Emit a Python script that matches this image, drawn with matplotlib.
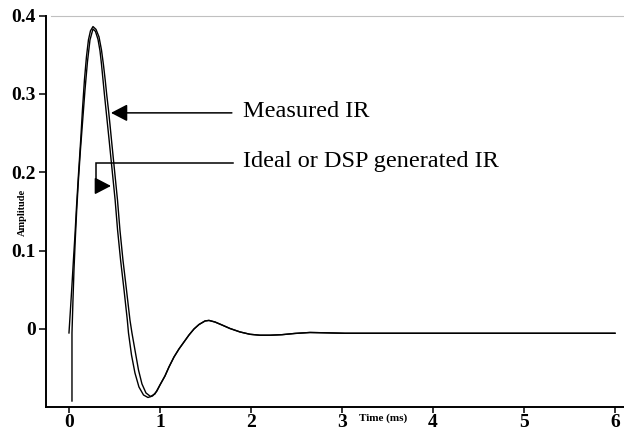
import matplotlib
matplotlib.use("Agg")
import matplotlib.pyplot as plt
import numpy as np

plt.rcParams['font.family'] = ['Liberation Serif', 'DejaVu Serif']

# shared ringing tail after the first trough (ms, amplitude)
tail_t = [1.000, 1.055, 1.099, 1.154, 1.209, 1.264, 1.319, 1.374, 1.429, 1.495,
          1.538, 1.604, 1.681, 1.769, 1.879, 1.989, 2.099, 2.209, 2.341, 2.484,
          2.648, 2.813, 3.033, 6.000]
tail_a = [-0.0715, -0.0600, -0.0485, -0.0358, -0.0255, -0.0166, -0.0077, 0.0000,
          0.0057, 0.0102, 0.0109, 0.0089, 0.0051, 0.0006, -0.0038, -0.0068,
          -0.0080, -0.0080, -0.0073, -0.0057, -0.0045, -0.0049, -0.0055, -0.0055]

# measured impulse response, start of record to first trough
meas_t = [0.000, 0.016, 0.033, 0.049, 0.066, 0.082, 0.104, 0.129, 0.148, 0.170,
          0.192, 0.214, 0.236, 0.264, 0.297, 0.330, 0.357, 0.379, 0.398, 0.415,
          0.434, 0.451, 0.467, 0.489, 0.511, 0.533, 0.560, 0.593, 0.632, 0.670,
          0.692, 0.725, 0.764, 0.802, 0.846, 0.896, 0.945]
meas_a = [-0.0051, 0.0243, 0.0562, 0.0881, 0.1200, 0.1545, 0.1967, 0.2414, 0.2797,
          0.3180, 0.3474, 0.3691, 0.3806, 0.3861, 0.3825, 0.3729, 0.3563, 0.3372,
          0.3180, 0.2989, 0.2797, 0.2605, 0.2414, 0.2158, 0.1903, 0.1648, 0.1264,
          0.0881, 0.0498, 0.0115, -0.0051, -0.0268, -0.0524, -0.0702, -0.0817,
          -0.0862, -0.0830]

# ideal / DSP generated response
ideal_t = [0.033, 0.033, 0.044, 0.055, 0.069, 0.085, 0.104, 0.126, 0.151, 0.176,
           0.203, 0.231, 0.264, 0.291, 0.319, 0.341, 0.357, 0.374, 0.390, 0.407,
           0.424, 0.441, 0.463, 0.485, 0.507, 0.534, 0.567, 0.605, 0.641, 0.654,
           0.687, 0.725, 0.769, 0.819, 0.868, 0.918, 0.967]
ideal_a = [-0.0920, -0.0051, 0.0370, 0.0754, 0.1137, 0.1520, 0.1903, 0.2286,
           0.2669, 0.3052, 0.3410, 0.3691, 0.3831, 0.3799, 0.3697, 0.3550, 0.3384,
           0.3180, 0.2989, 0.2797, 0.2605, 0.2414, 0.2158, 0.1903, 0.1648, 0.1264,
           0.0881, 0.0498, 0.0115, -0.0051, -0.0332, -0.0562, -0.0741, -0.0843,
           -0.0875, -0.0856, -0.0792]

x_ticks = [0, 1, 2, 3, 4, 5, 6]
y_ticks = [0, 0.1, 0.2, 0.3, 0.4]
y_tick_labels = ['0', '0.1', '0.2', '0.3', '0.4']

fig = plt.figure(figsize=(6.24, 4.33), dpi=100)
ax = fig.add_axes([0.0732, 0.0594, 0.9268, 0.9044])

ax.plot(meas_t + tail_t, meas_a + tail_a, color='black', lw=1.0, solid_joinstyle='round')
ax.plot(ideal_t + tail_t, ideal_a + tail_a, color='black', lw=1.0, solid_joinstyle='round')

ax.set_xlim(-0.256, 6.099)
ax.set_ylim(-0.1, 0.4)

ax.set_xticks(x_ticks)
ax.set_xticklabels([str(t) for t in x_ticks])
ax.set_yticks(y_ticks)
ax.set_yticklabels(y_tick_labels)
for lbl in ax.get_xticklabels() + ax.get_yticklabels():
    lbl.set_fontweight('bold')
    lbl.set_fontsize(14)
ax.tick_params(axis='y', direction='out', length=5, width=1.1, pad=2)
ax.tick_params(axis='x', direction='out', length=4.3, width=1.1, pad=0.5)

for side in ['left', 'bottom']:
    ax.spines[side].set_linewidth(1.4)
ax.spines['right'].set_visible(False)
ax.spines['top'].set_color('#c0c0c0')
ax.spines['top'].set_linewidth(0.8)
ax.spines['top'].set_bounds(-0.2, 6.099)

ax.text(3.45, -0.1137, 'Time (ms)', fontsize=8, fontweight='bold',
        ha='center', va='center', clip_on=False)
ax.text(-0.516, 0.149, 'Amplitude', fontsize=7.5, fontweight='bold',
        rotation=90, ha='center', va='center', clip_on=False)

head = '-|>,head_length=1.0,head_width=0.52'

# "Measured IR" callout
ax.annotate('', xy=(0.4615, 0.2759), xytext=(1.79, 0.2759),
            arrowprops=dict(arrowstyle=head, color='black', lw=1.1,
                            shrinkA=0, shrinkB=0, mutation_scale=10))
ax.text(1.912, 0.2708, 'Measured IR', fontsize=17.5, ha='left', va='baseline')

# "Ideal" callout, bent leader
ax.plot([1.802, 0.2967, 0.2967], [0.212, 0.212, 0.1826], color='black', lw=1.1,
        solid_joinstyle='miter')
ax.annotate('', xy=(0.4615, 0.1826), xytext=(0.2967, 0.1826),
            arrowprops=dict(arrowstyle=head, color='black', lw=1.1,
                            shrinkA=0, shrinkB=0, mutation_scale=10))
ax.text(1.912, 0.2069, 'Ideal or DSP generated IR', fontsize=17.5, ha='left', va='baseline')

fig.savefig('out.png', dpi=100)
